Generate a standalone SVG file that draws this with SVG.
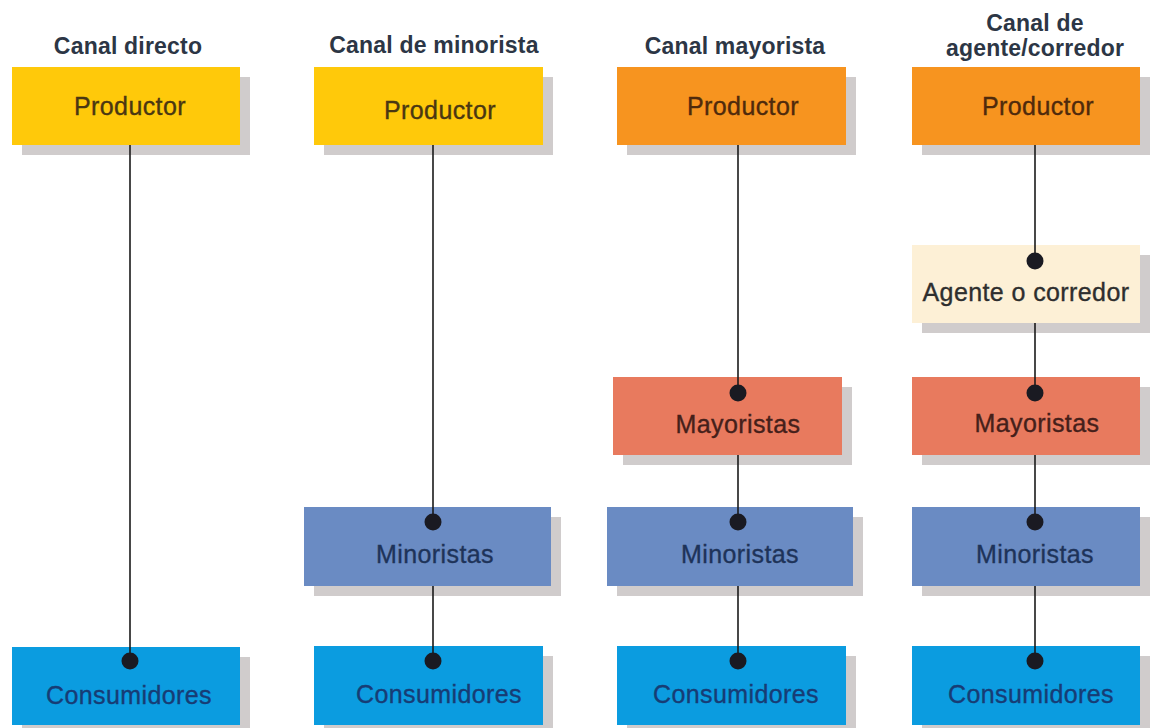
<svg xmlns="http://www.w3.org/2000/svg" width="1153" height="728" viewBox="0 0 1153 728">
<style>
.title{font-family:"Liberation Sans",Arial,sans-serif;font-weight:bold;font-size:23px;fill:#2c3645;text-anchor:middle;letter-spacing:0.2px}
.lbl{font-family:"Liberation Sans",Arial,sans-serif;font-size:25px;text-anchor:middle;letter-spacing:0.4px;stroke-width:0.35px}
.sh{fill:#d0cccc}
.prodY{fill:#ffc90a}
.prodO{fill:#f7941f}
.agent{fill:#fdf0d6}
.may{fill:#e87a5e}
.min{fill:#6a8bc3}
.con{fill:#0b9ce0}
.tY{fill:#4a3712;stroke:#4a3712}
.tO{fill:#4f2a0c;stroke:#4f2a0c}
.tA{fill:#2e2e2e;stroke:#2e2e2e}
.tM{fill:#45201a;stroke:#45201a}
.tN{fill:#1e3359;stroke:#1e3359}
.tC{fill:#173c75;stroke:#173c75}
.ln{stroke:#1a1a1a;stroke-width:1.6;fill:none;marker-end:url(#dot)}
</style>
<defs>
<marker id="dot" markerWidth="20" markerHeight="20" refX="10" refY="10" markerUnits="userSpaceOnUse">
<circle cx="10" cy="10" r="8.5" fill="#1a1a22"/>
</marker>
</defs>
<rect width="1153" height="728" fill="#ffffff"/>

<g id="titles">
<text class="title" x="128" y="54">Canal directo</text>
<text class="title" x="434" y="53">Canal de minorista</text>
<text class="title" x="735" y="54">Canal mayorista</text>
<text class="title" x="1035" y="31">Canal de</text>
<text class="title" x="1035" y="56">agente/corredor</text>
</g>

<!-- Column 1 -->
<g id="c1-productor">
<rect class="sh" x="22" y="77" width="228" height="78"/>
<rect class="prodY" x="12" y="67" width="228" height="78"/>
<text class="lbl tY" x="130" y="115">Productor</text>
</g>
<g id="c1-consumidores">
<rect class="sh" x="22" y="657" width="228" height="78"/>
<rect class="con" x="12" y="647" width="228" height="78"/>
<text class="lbl tC" x="129" y="704">Consumidores</text>
</g>

<!-- Column 2 -->
<g id="c2-productor">
<rect class="sh" x="324" y="77" width="229" height="78"/>
<rect class="prodY" x="314" y="67" width="229" height="78"/>
<text class="lbl tY" x="440" y="119">Productor</text>
</g>
<g id="c2-minoristas">
<rect class="sh" x="314" y="517" width="247" height="79"/>
<rect class="min" x="304" y="507" width="247" height="79"/>
<text class="lbl tN" x="435" y="563">Minoristas</text>
</g>
<g id="c2-consumidores">
<rect class="sh" x="324" y="656" width="229" height="79"/>
<rect class="con" x="314" y="646" width="229" height="79"/>
<text class="lbl tC" x="439" y="703">Consumidores</text>
</g>

<!-- Column 3 -->
<g id="c3-productor">
<rect class="sh" x="627" y="77" width="229" height="78"/>
<rect class="prodO" x="617" y="67" width="229" height="78"/>
<text class="lbl tO" x="743" y="115">Productor</text>
</g>
<g id="c3-mayoristas">
<rect class="sh" x="623" y="387" width="229" height="78"/>
<rect class="may" x="613" y="377" width="229" height="78"/>
<text class="lbl tM" x="738" y="433">Mayoristas</text>
</g>
<g id="c3-minoristas">
<rect class="sh" x="617" y="517" width="246" height="79"/>
<rect class="min" x="607" y="507" width="246" height="79"/>
<text class="lbl tN" x="740" y="563">Minoristas</text>
</g>
<g id="c3-consumidores">
<rect class="sh" x="627" y="656" width="229" height="79"/>
<rect class="con" x="617" y="646" width="229" height="79"/>
<text class="lbl tC" x="736" y="703">Consumidores</text>
</g>

<!-- Column 4 -->
<g id="c4-productor">
<rect class="sh" x="922" y="77" width="228" height="78"/>
<rect class="prodO" x="912" y="67" width="228" height="78"/>
<text class="lbl tO" x="1038" y="115">Productor</text>
</g>
<g id="c4-agente">
<rect class="sh" x="922" y="255" width="228" height="78"/>
<rect class="agent" x="912" y="245" width="228" height="78"/>
<text class="lbl tA" x="1026" y="301">Agente o corredor</text>
</g>
<g id="c4-mayoristas">
<rect class="sh" x="922" y="387" width="228" height="78"/>
<rect class="may" x="912" y="377" width="228" height="78"/>
<text class="lbl tM" x="1037" y="432">Mayoristas</text>
</g>
<g id="c4-minoristas">
<rect class="sh" x="922" y="517" width="228" height="79"/>
<rect class="min" x="912" y="507" width="228" height="79"/>
<text class="lbl tN" x="1035" y="563">Minoristas</text>
</g>
<g id="c4-consumidores">
<rect class="sh" x="922" y="656" width="228" height="79"/>
<rect class="con" x="912" y="646" width="228" height="79"/>
<text class="lbl tC" x="1031" y="703">Consumidores</text>
</g>

<g id="connectors">
<path class="ln" d="M130 145V661"/>
<path class="ln" d="M433 145V522"/>
<path class="ln" d="M433 586V661"/>
<path class="ln" d="M738 145V393"/>
<path class="ln" d="M738 455V522"/>
<path class="ln" d="M738 586V661"/>
<path class="ln" d="M1035 145V261"/>
<path class="ln" d="M1035 323V393"/>
<path class="ln" d="M1035 455V522"/>
<path class="ln" d="M1035 586V661"/>
</g>
</svg>
